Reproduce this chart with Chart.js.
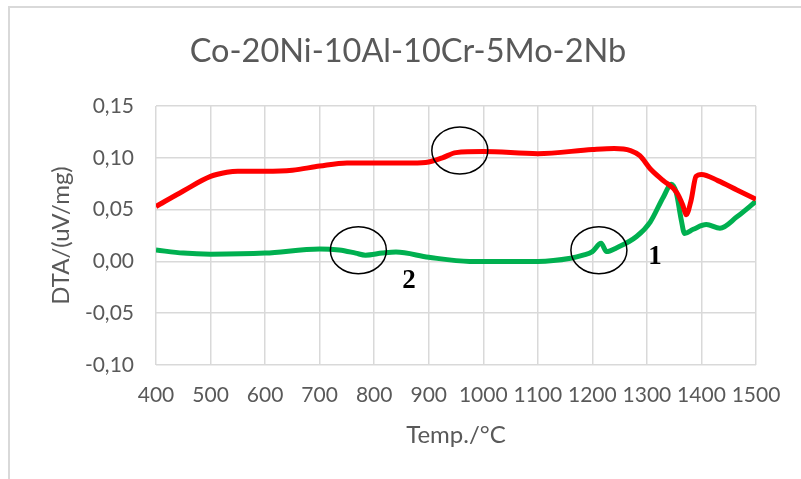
<!DOCTYPE html>
<html>
<head>
<meta charset="UTF-8">
<title>Co-20Ni-10Al-10Cr-5Mo-2Nb DTA</title>
<script src="https://cdn.jsdelivr.net/npm/chart.js"></script>
<style>
    html, body {
        margin: 0;
        padding: 0;
        background: #ffffff;
    }
    .frame {
        position: absolute;
        left: 8px;
        top: 6px;
        right: -10px;
        bottom: -10px;
        border-left: 2px solid #d9d9d9;
        border-top: 2px solid #d9d9d9;
    }
    .wrap {
        position: absolute;
        left: 0;
        top: 0;
        width: 801px;
        height: 479px;
    }
</style>
</head>
<body>
<div class="frame"></div>
<div class="wrap"><canvas id="dta"></canvas></div>
<script>
// heating curve (red)
const tempRed = [400, 450, 500, 530, 550, 600, 650, 700, 750, 800, 870, 900, 925, 950, 1000,
    1100, 1200, 1240, 1270, 1287, 1306, 1330, 1354, 1366, 1372, 1381, 1390, 1400, 1430, 1465, 1500];
const dtaRed = [0.053, 0.068, 0.082, 0.086, 0.087, 0.087, 0.088, 0.092, 0.095, 0.095, 0.095, 0.096, 0.100, 0.105, 0.106,
    0.104, 0.108, 0.109, 0.107, 0.102, 0.0895, 0.078, 0.067, 0.054, 0.045, 0.059, 0.082, 0.084, 0.078, 0.069, 0.060];

// cooling curve (green)
const tempGreen = [400, 450, 500, 600, 700, 736, 766, 784, 815, 840, 900, 975, 1000, 1100, 1160, 1183,
    1200, 1216, 1226, 1244, 1281, 1306, 1330, 1345, 1354, 1363, 1369, 1385, 1409, 1434, 1465, 1500];
const dtaGreen = [0.011, 0.008, 0.007, 0.008, 0.012, 0.011, 0.008, 0.006, 0.008, 0.009, 0.004, 0.000, 0.000, 0.000, 0.003, 0.006,
    0.0095, 0.0175, 0.0095, 0.013, 0.024, 0.038, 0.062, 0.0745, 0.066, 0.040, 0.027, 0.031, 0.0355, 0.032, 0.043, 0.058];

const xTicks = [400, 500, 600, 700, 800, 900, 1000, 1100, 1200, 1300, 1400, 1500];
const yTicks = [-0.10, -0.05, 0.00, 0.05, 0.10, 0.15];

// marked transitions: [temp, dta]
const circles = [[957, 0.107], [771, 0.0107], [1212, 0.0107]];
// peak numbers: [text, temp, dta]
const peakLabels = [['1', 1315, 0.0045], ['2', 864, -0.0185]];

const toPoints = (xs, ys) => xs.map((x, i) => ({ x: x, y: ys[i] }));

const annotate = {
    id: 'annotate',
    afterDatasetsDraw(chart) {
        const { ctx, scales: { x, y } } = chart;
        ctx.save();
        ctx.strokeStyle = '#000000';
        ctx.lineWidth = 1.5;
        circles.forEach(([t, v]) => {
            ctx.beginPath();
            ctx.ellipse(x.getPixelForValue(t), y.getPixelForValue(v), 28, 23.5, 0, 0, Math.PI * 2);
            ctx.stroke();
        });
        ctx.fillStyle = '#000000';
        ctx.font = 'bold 27px "Liberation Serif", serif';
        ctx.textAlign = 'center';
        ctx.textBaseline = 'middle';
        peakLabels.forEach(([txt, t, v]) => {
            ctx.fillText(txt, x.getPixelForValue(t), y.getPixelForValue(v));
        });
        ctx.restore();
    }
};

const fontFamily = 'Lato, "Open Sans", sans-serif';
const gray = '#595959';

new Chart(document.getElementById('dta'), {
    type: 'line',
    data: {
        datasets: [
            {
                label: 'heating',
                data: toPoints(tempRed, dtaRed),
                borderColor: '#ff0000',
                borderWidth: 5,
                pointRadius: 0,
                cubicInterpolationMode: 'monotone'
            },
            {
                label: 'cooling',
                data: toPoints(tempGreen, dtaGreen),
                borderColor: '#00b050',
                borderWidth: 5,
                pointRadius: 0,
                cubicInterpolationMode: 'monotone'
            }
        ]
    },
    options: {
        responsive: true,
        maintainAspectRatio: false,
        animation: false,
        layout: { padding: { left: 60, right: 45, top: 0, bottom: 0 } },
        plugins: {
            legend: { display: false },
            tooltip: { enabled: false },
            title: {
                display: true,
                text: 'Co-20Ni-10Al-10Cr-5Mo-2Nb',
                color: gray,
                font: { family: fontFamily, size: 32.5, weight: 'normal' },
                padding: { top: 32.5, bottom: 34.5 }
            }
        },
        scales: {
            x: {
                type: 'linear',
                min: 400,
                max: 1500,
                afterBuildTicks: s => { s.ticks = xTicks.map(v => ({ value: v })); },
                afterFit: s => { s.height = 114; },
                grid: { color: '#d9d9d9', lineWidth: 1.5, drawTicks: false },
                border: { display: false },
                ticks: {
                    color: gray,
                    padding: 18,
                    maxRotation: 0,
                    autoSkip: false,
                    font: { family: fontFamily, size: 21 },
                    callback: v => String(v)
                },
                title: {
                    display: true,
                    text: 'Temp./°C',
                    color: gray,
                    font: { family: fontFamily, size: 24 },
                    padding: { top: 0, bottom: 29.6 }
                }
            },
            y: {
                min: -0.10,
                max: 0.15,
                afterBuildTicks: s => { s.ticks = yTicks.map(v => ({ value: v })); },
                afterFit: s => { s.width = 96; },
                grid: { color: '#d9d9d9', lineWidth: 1.5, drawTicks: false },
                border: { display: false },
                ticks: {
                    color: gray,
                    padding: 22,
                    font: { family: fontFamily, size: 21 },
                    callback: v => v.toFixed(2).replace('.', ',')
                },
                title: {
                    display: true,
                    text: 'DTA/(uV/mg)',
                    color: gray,
                    font: { family: fontFamily, size: 24 },
                    padding: { top: -13.4, bottom: 0 }
                }
            }
        }
    },
    plugins: [annotate]
});
</script>
</body>
</html>
